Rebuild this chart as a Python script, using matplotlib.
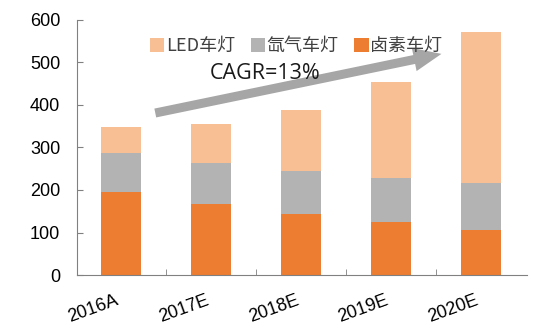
import matplotlib.pyplot as plt
import numpy as np

years = ['2016A', '2017E', '2018E', '2019E', '2020E']
halogen = [196, 167, 143, 124, 105]
xenon = [91, 96, 102, 104, 111]
led = [60, 91, 143, 226, 356]
labels = ['LED车灯', '氙气车灯', '卤素车灯']
cagr_text = 'CAGR=13%'

plt.rcParams['font.family'] = ['Liberation Sans', 'Noto Sans CJK SC', 'DejaVu Sans']

fig = plt.figure(figsize=(5.5, 3.31), dpi=100)
ax = fig.add_axes([0.14, 0.169, 0.818, 0.771])

x = np.arange(len(years))
w = 0.44
halogen = np.array(halogen)
xenon = np.array(xenon)
led = np.array(led)

b3 = ax.bar(x, halogen, w, color='#ED7D31', label=labels[2])
b2 = ax.bar(x, xenon, w, bottom=halogen, color='#B3B3B3', label=labels[1])
b1 = ax.bar(x, led, w, bottom=halogen + xenon, color='#F8BF95', label=labels[0])

ax.set_xlim(-0.49, 4.51)
ax.set_ylim(0, 600)
ax.set_yticks(range(0, 601, 100))
ax.set_xticks(x)
ax.set_xticklabels(years, rotation=20, ha='right', fontsize=13)
ax.set_xticks(x[:-1] + 0.5, minor=True)
ax.tick_params(axis='x', which='major', length=0, pad=12)
ax.tick_params(axis='x', which='minor', direction='in', length=4, color='#808080')
ax.tick_params(axis='y', direction='in', length=4, color='#808080', labelsize=13, pad=12)

for s in ['top', 'right']:
    ax.spines[s].set_visible(False)
for s in ['left', 'bottom']:
    ax.spines[s].set_color('#808080')

# growth arrow
ax.annotate('', xy=(3.56, 520), xytext=(0.38, 381),
            arrowprops=dict(facecolor='#A6A6A6', edgecolor='none',
                            width=6.5, headwidth=17, headlength=20))
ax.text(0.98, 462, cagr_text, fontsize=15.5, family=['Open Sans', 'DejaVu Sans'],
        color='#1a1a1a', va='baseline')

leg = ax.legend(handles=[b1, b2, b3], labels=labels, loc='upper center',
                bbox_to_anchor=(0.487, 0.995), ncol=3, frameon=False,
                handlelength=0.8, handleheight=0.8,
                handletextpad=0.1, columnspacing=0.85,
                prop={'family': ['Noto Sans CJK SC', 'DejaVu Sans'], 'size': 13})
for t in leg.get_texts():
    t.set_color('#404040')

fig.savefig('out.png', dpi=100)
